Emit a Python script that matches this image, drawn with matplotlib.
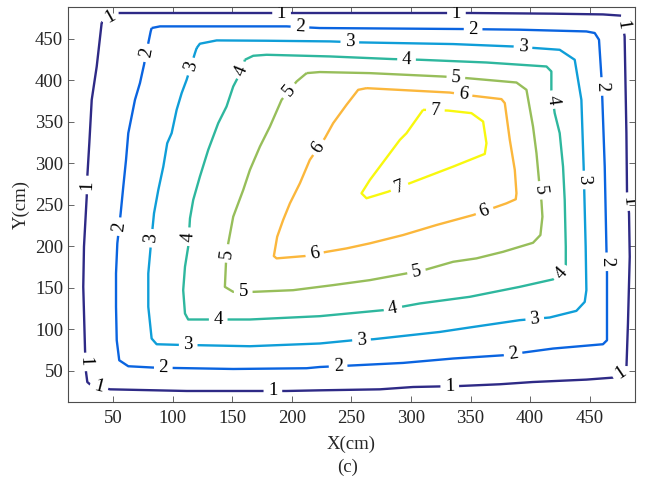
import numpy as np
import matplotlib
matplotlib.use('Agg')
import matplotlib.pyplot as plt
from matplotlib.contour import ContourSet

plt.rcParams['font.family'] = ['Liberation Serif', 'DejaVu Serif']

LEVELS = [1, 2, 3, 4, 5, 6, 7]
COLORS = ['#2e2a86', '#0a64e0', '#0f9ed8', '#2eb79e', '#97be5a', '#fbb73c', '#f8f80e']

# ── contour lines (cm) ───────────────────────────────────────────────────────
lv1_x = [40.3, 36.1, 31.9, 29.9, 28.2, 27.7, 25.4, 24.8, 26.3, 27.1, 28.2, 30.4, 47.2,
         111.6, 150.7, 195.5, 223.4, 273.8, 301.7, 340.9, 374.5, 402.2, 447.2, 469.5,
         480.8, 482.1, 483.6, 483.0, 481.3, 480.8, 479.3, 476.6, 461.1, 418.9, 350.7,
         223.4, 54.2, 47.2]
lv1_y = [469.8, 416.7, 376.5, 324.7, 284.0, 259.9, 199.6, 151.3, 75.0, 48.8, 36.7, 34.0, 27.9,
         25.9, 25.9, 25.9, 26.7, 27.9, 30.7, 31.9, 34.0, 36.7, 39.6, 42.0,
         52.9, 107.2, 187.5, 239.9, 265.9, 336.4, 452.9, 477.9, 479.4, 480.3, 481.1,
         481.1, 481.1, 477.0]

lv2_x = [82.2, 81.4, 79.4, 75.8, 72.4, 68.2, 65.4, 62.6, 60.7, 58.4, 56.2, 53.4, 52.3, 52.3,
         52.9, 55.0, 62.6, 83.6, 101.8, 150.7, 212.3, 223.4, 248.6, 293.3, 335.3, 377.2,
         419.2, 461.1, 464.5, 464.5, 464.0, 462.6, 460.6, 459.8, 457.8, 454.2, 447.2,
         391.2, 343.7, 223.4, 195.5, 89.2]
lv2_y = [463.0, 458.9, 444.9, 418.8, 396.7, 376.5, 356.4, 336.4, 304.2, 272.0, 239.9, 203.7,
         167.5, 127.2, 87.0, 62.9, 55.7, 54.1, 53.6, 52.4, 53.3, 54.8, 56.5, 59.7, 65.0,
         68.9, 77.0, 82.2, 87.0, 167.5, 199.6, 296.1, 376.5, 404.6, 448.9, 457.0, 458.9,
         461.0, 461.8, 463.0, 465.0, 465.0]

lv3_x = [120.0, 122.7, 136.8, 178.7, 231.8, 257.0, 335.3, 385.6, 424.8, 437.4, 443.0, 444.9,
         446.6, 447.2, 445.8, 438.8, 416.4, 391.2, 349.3, 324.1, 268.2, 251.4, 223.4, 164.7,
         122.7, 106.0, 86.4, 82.2, 79.4, 79.4, 81.4, 84.2, 87.8, 92.0, 95.3, 99.0, 103.2,
         107.4, 111.6, 118.6]
lv3_y = [438.9, 444.1, 448.1, 447.7, 446.9, 445.7, 443.7, 440.8, 436.8, 424.8, 376.5, 296.1,
         199.6, 147.3, 133.2, 122.4, 114.4, 111.2, 102.4, 97.0, 88.2, 87.0, 83.1, 79.8,
         81.0, 81.4, 82.2, 89.1, 127.2, 167.5, 199.6, 239.9, 268.0, 296.1, 324.3, 336.4,
         364.5, 384.6, 400.7, 432.9]

lv4_x = [160.5, 167.5, 178.7, 231.8, 284.9, 307.3, 363.3, 413.7, 417.8, 417.8, 420.6, 424.8,
         427.6, 429.0, 429.9, 429.9, 426.2, 419.2, 391.2, 349.3, 307.3, 276.5, 223.4, 164.7,
         128.4, 112.9, 110.2, 108.7, 110.2, 112.9, 114.4, 117.1, 122.7, 129.7, 138.1, 145.1,
         150.7, 157.7]
lv4_y = [424.8, 429.6, 430.8, 428.8, 425.6, 424.8, 421.5, 416.7, 410.7, 388.6, 360.5, 336.4,
         296.1, 255.9, 199.6, 177.5, 167.5, 160.3, 151.3, 139.3, 131.3, 123.2, 116.0, 112.0,
         112.0, 112.0, 119.2, 147.3, 175.5, 199.6, 233.8, 255.9, 284.0, 316.2, 348.4, 368.5,
         392.6, 411.9]

lv5_x = [212.3, 223.4, 265.4, 326.9, 346.5, 388.5, 396.9, 402.4, 405.3, 407.4, 409.5, 410.3,
         408.6, 402.4, 377.2, 354.9, 335.3, 313.0, 296.2, 265.4, 234.6, 201.0, 167.5, 150.7,
         143.7, 144.6, 146.5, 150.7, 159.1, 164.7, 173.1, 181.5, 191.3, 203.9]
lv5_y = [408.7, 410.0, 408.7, 404.6, 402.7, 397.4, 388.6, 344.3, 312.2, 280.0, 253.9, 235.8,
         213.7, 204.4, 193.5, 185.6, 181.5, 172.3, 167.5, 159.4, 153.4, 147.3, 145.3, 145.3,
         151.3, 179.6, 203.7, 235.8, 268.0, 292.1, 320.2, 344.3, 376.5, 398.6]

lv6_x = [262.6, 332.5, 352.1, 375.9, 378.7, 382.9, 387.1, 388.5, 387.9, 380.1, 352.1, 321.4,
         293.3, 265.4, 245.8, 229.1, 210.8, 187.1, 184.8, 187.6, 192.6, 198.3, 206.7, 215.0,
         227.6, 234.6, 245.8, 255.6]
lv6_y = [390.6, 385.3, 381.4, 377.4, 372.6, 328.3, 292.1, 264.0, 256.8, 251.9, 237.8, 225.8,
         213.7, 203.7, 197.6, 193.5, 188.4, 185.6, 188.4, 211.6, 231.8, 251.9, 276.1, 304.2,
         330.3, 348.4, 370.5, 388.6]

lv7_x = [310.1, 331.1, 350.7, 360.5, 363.3, 361.9, 335.3, 298.9, 280.7, 262.6, 258.4, 265.4,
         273.8, 282.2, 290.6, 296.2]
lv7_y = [364.5, 363.6, 360.5, 350.4, 324.3, 311.4, 296.1, 276.1, 265.9, 258.0, 264.0, 280.0,
         296.1, 312.2, 328.3, 336.4]

# label positions (cm)
label_x = [191.3, 338.1, 476.6, 481.9, 476.6, 332.5, 184.0, 38.8, 26.7, 28.4, 47.2,
           206.7, 352.1, 460.0, 464.5, 385.6, 238.8, 92.0, 55.6, 77.4,
           248.6, 394.0, 445.4, 403.8, 258.4, 112.9, 80.8, 114.8,
           296.2, 417.8, 426.2, 284.9, 138.1, 114.4, 157.7,
           337.6, 407.6, 304.6, 159.1, 145.1, 198.3,
           343.7, 361.9, 219.2, 222.0,
           320.4, 290.6]
label_y = [481.0, 481.0, 467.0, 253.9, 47.2, 31.5, 26.0, 35.0, 60.9, 274.0, 477.0,
           463.4, 461.6, 392.6, 181.5, 71.0, 54.5, 53.3, 223.7, 433.2,
           446.5, 440.5, 280.0, 113.6, 87.6, 81.0, 210.0, 416.7,
           424.8, 376.5, 167.5, 124.4, 110.0, 211.6, 411.9,
           403.1, 267.4, 169.1, 145.0, 191.6, 386.5,
           382.6, 241.8, 189.6, 319.5,
           363.6, 270.0]


def closed(xs, ys):
    pts = np.column_stack([xs, ys])
    return np.vstack([pts, pts[:1]])


allsegs = [[closed(x, y)] for x, y in [(lv1_x, lv1_y), (lv2_x, lv2_y), (lv3_x, lv3_y),
                                        (lv4_x, lv4_y), (lv5_x, lv5_y), (lv6_x, lv6_y),
                                        (lv7_x, lv7_y)]]

fig = plt.figure(figsize=(6.49, 4.82), dpi=100)
ax = fig.add_axes([0.1048, 0.1666, 0.8736, 0.8183])

cs = ContourSet(ax, LEVELS, allsegs, colors=COLORS, linewidths=1.7)
ax.clabel(cs, manual=list(zip(label_x, label_y)), inline=True, fmt='%d',
          fontsize=13.5, colors='k', inline_spacing=5)

ax.set_xlim(12, 488)
ax.set_ylim(13, 488)
ax.set_xticks(np.arange(50, 451, 50))
ax.set_yticks(np.arange(50, 451, 50))
ax.tick_params(direction='in', top=True, right=True, length=4, width=0.6,
               labelsize=13.5, colors='#4d4d4d', labelcolor='#262626')
ax.tick_params(axis='x', pad=6)
for sp in ax.spines.values():
    sp.set_color('#4d4d4d')
    sp.set_linewidth(0.8)

ax.set_xlabel('X(cm)', fontsize=13.5, color='#262626', labelpad=6)
ax.set_ylabel('Y(cm)', fontsize=13.5, color='#262626', labelpad=4)
fig.text(0.536, 0.03, '(c)', ha='center', va='center', fontsize=13.5, color='#262626')

fig.savefig('out.png', dpi=100)
